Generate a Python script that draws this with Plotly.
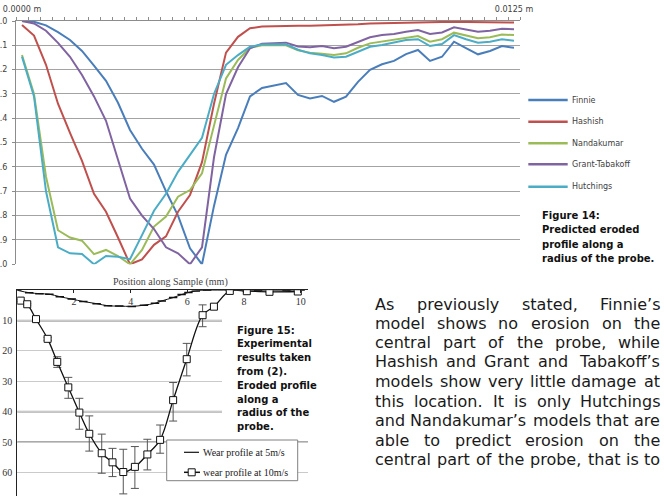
import plotly.graph_objects as go

W, H = 664, 496

# ---------------- Figure 14 data (predicted eroded profile, normalised depth) ----------------
n_pts = 42
radius_end_m = 0.0125
positions_m = [radius_end_m * k / (n_pts - 1) for k in range(n_pts)]
x_tick_labels = ["0.0000 m", "0.0125 m"]

finnie = [0.0, 0.003, 0.018, 0.046, 0.078, 0.123, 0.183, 0.246, 0.336, 0.448,
          0.525, 0.59, 0.70, 0.80, 0.934, 1.0, 0.76, 0.55, 0.44, 0.31,
          0.275, 0.265, 0.255, 0.304, 0.318, 0.308, 0.332, 0.311, 0.25, 0.201,
          0.178, 0.164, 0.136, 0.119, 0.164, 0.147, 0.085, 0.111, 0.137, 0.123,
          0.103, 0.11]
hashish = [0.016, 0.06, 0.18, 0.34, 0.46, 0.575, 0.71, 0.784, 0.89, 1.0,
           0.98, 0.92, 0.885, 0.784, 0.715, 0.58, 0.34, 0.13, 0.065, 0.03,
           0.023, 0.021, 0.021, 0.02, 0.02, 0.019, 0.018, 0.016, 0.013, 0.01,
           0.009, 0.007, 0.005, 0.004, 0.005, 0.005, 0.003, 0.004, 0.005, 0.005,
           0.006, 0.006]
nandakumar = [0.14, 0.30, 0.64, 0.86, 0.89, 0.903, 0.958, 0.941, 0.966, 1.0,
              0.941, 0.845, 0.804, 0.722, 0.695, 0.626, 0.43, 0.236, 0.16, 0.11,
              0.1, 0.1, 0.1, 0.12, 0.13, 0.135, 0.14, 0.133, 0.11, 0.092,
              0.085, 0.078, 0.069, 0.062, 0.085, 0.075, 0.048, 0.06, 0.071, 0.067,
              0.056, 0.058]
grant_tabakoff = [0.0, 0.01, 0.04, 0.09, 0.147, 0.222, 0.31, 0.41, 0.57, 0.73,
                  0.8, 0.855, 0.93, 0.955, 1.0, 0.93, 0.56, 0.3, 0.19, 0.112,
                  0.093, 0.09, 0.089, 0.105, 0.108, 0.103, 0.112, 0.106, 0.085, 0.067,
                  0.058, 0.053, 0.044, 0.037, 0.053, 0.047, 0.026, 0.035, 0.044, 0.04,
                  0.032, 0.034]
hutchings = [0.147, 0.31, 0.70, 0.93, 0.955, 0.958, 1.0, 0.966, 0.969, 0.979,
             0.88, 0.78, 0.71, 0.62, 0.55, 0.48, 0.30, 0.18, 0.14, 0.106,
             0.097, 0.096, 0.096, 0.118, 0.133, 0.14, 0.15, 0.147, 0.126, 0.106,
             0.099, 0.089, 0.078, 0.075, 0.103, 0.095, 0.058, 0.075, 0.089, 0.085,
             0.075, 0.081]
series_names = ["Finnie", "Hashish", "Nandakumar", "Grant-Tabakoff", "Hutchings"]
series_values = [finnie, hashish, nandakumar, grant_tabakoff, hutchings]
series_colors = ["#4a7ebb", "#c0504d", "#9bbb59", "#8064a2", "#4bacc6"]
top_y_vals = [0.0, 0.1, 0.2, 0.3, 0.4, 0.5, 0.6, 0.7, 0.8, 0.9, 1.0]
# the page crops the leading digit of these labels; only the visible part is kept
top_y_text = [".0", ".1", ".2", ".3", ".4", ".5", ".6", ".7", ".8", ".9", ".0"]

# ---------------- Figure 15 data (experimental wear profile, mm vs depth) ----------------
pos5 = [0.0, 0.42, 0.78, 1.13, 1.5, 1.92, 2.33, 2.8, 3.2, 3.6, 4.04, 4.47, 4.86,
        5.1, 5.5, 5.8, 6.04, 6.3, 6.7, 7.5, 8.5, 9.5, 10.0]
depth5 = [0.0, 0.8, 1.1, 1.3, 2.1, 2.9, 3.7, 4.4, 5.1, 5.2, 5.3, 4.9, 4.3,
          3.5, 2.4, 1.4, 0.7, 0.2, 0.0, 0.0, 0.0, 0.0, 0.0]
pos10 = [0.12, 0.35, 0.66, 1.07, 1.41, 1.80, 2.19, 2.54, 2.98, 3.36, 3.74, 4.15,
         4.59, 5.04, 5.50, 5.98, 6.54, 6.94, 7.50, 8.10, 8.90, 9.90]
depth10 = [3.4, 4.6, 9.5, 16.0, 23.6, 32.0, 40.3, 47.3, 53.7, 56.7, 59.9, 58.2,
           54.1, 49.3, 36.2, 22.7, 8.2, 5.4, 0.2, 0.3, 0.5, 0.4]
err_shallower = [0.3, 0.3, 0.4, 0.5, 1.7, 3.3, 4.7, 5.9, 6.3, 4.6, 7.5, 6.7,
                 5.0, 4.9, 5.8, 5.2, 3.4, 0.8, 0.0, 0.0, 0.0, 0.0]
err_deeper = [0.3, 0.3, 0.4, 0.5, 1.8, 3.6, 5.5, 5.7, 6.6, 4.7, 7.2, 7.1,
              5.1, 4.4, 6.9, 5.5, 3.8, 0.8, 0.0, 0.0, 0.0, 0.0]
bottom_x_ticks = [0, 2, 4, 6, 8, 10]
bottom_y_ticks = [0, 10, 20, 30, 40, 50, 60]
legend15 = ["Wear profile at 5m/s", "wear profile at 10m/s"]

caption14 = ["Figure 14:", "Predicted eroded", "profile along a", "radius of the probe."]
caption15 = ["Figure 15:", "Experimental", "results taken", "from (2).", "Eroded profile",
             "along a", "radius of the", "probe."]
paragraph = [
    "As previously stated, Finnie\u2019s",
    "model shows no erosion on the",
    "central part of the probe, while",
    "Hashish and Grant and Tabakoff\u2019s",
    "models show very little damage at",
    "this location. It is only Hutchings",
    "and Nandakumar\u2019s models that are",
    "able to predict erosion on the",
    "central part of the probe, that is to",
]


def px(x):
    return x / W


def py(y):
    return 1 - y / H


fig = go.Figure()

for name, vals, col in zip(series_names, series_values, series_colors):
    fig.add_trace(go.Scatter(x=positions_m, y=vals, mode="lines", name=name,
                             line=dict(color=col, width=2), xaxis="x", yaxis="y",
                             showlegend=False))

fig.add_trace(go.Scatter(x=pos5, y=depth5, mode="lines+markers", name=legend15[0],
                         line=dict(color="#111", width=1, shape="spline"),
                         marker=dict(symbol="line-ew", size=6, line=dict(color="#111", width=1.5)),
                         xaxis="x2", yaxis="y2", showlegend=False))
fig.add_trace(go.Scatter(x=pos10, y=depth10, mode="lines+markers", name=legend15[1],
                         line=dict(color="#111", width=1.3, shape="spline"),
                         marker=dict(symbol="square", size=7, color="white",
                                     line=dict(color="#111", width=1)),
                         error_y=dict(type="data", symmetric=False, array=err_deeper,
                                      arrayminus=err_shallower, color="#555",
                                      thickness=1, width=4),
                         xaxis="x2", yaxis="y2", showlegend=False))

step = radius_end_m / (n_pts - 1)
sans = "DejaVu Sans"
serif = "Liberation Serif"

fig.update_layout(
    width=W, height=H, margin=dict(l=0, r=0, t=0, b=0, autoexpand=False),
    paper_bgcolor="white", plot_bgcolor="rgba(0,0,0,0)", showlegend=False,
    xaxis=dict(domain=[px(16), px(520)], range=[-step / 2, radius_end_m + step / 2],
               side="top", anchor="y", automargin=False, showline=True, linecolor="#8c8c8c",
               linewidth=1, showgrid=False, zeroline=False, tickmode="array",
               tickvals=[positions_m[0], positions_m[-1]], ticktext=x_tick_labels,
               ticks="", ticklabelstandoff=5,
               tickfont=dict(family=sans, size=8, color="#404040"),
               minor=dict(tickmode="linear", tick0=-step / 2, dtick=step, ticks="outside",
                          ticklen=3, tickcolor="#8c8c8c", showgrid=False)),
    yaxis=dict(domain=[py(264.3), py(21)], range=[1, 0], anchor="x", automargin=False,
               showline=True, linecolor="#8c8c8c", showgrid=True, gridcolor="#a3a3a3",
               gridwidth=1.2, zeroline=False, tickmode="array", tickvals=top_y_vals,
               ticktext=top_y_text, ticks="outside", ticklen=3, tickcolor="#8c8c8c",
               ticklabelstandoff=3, tickfont=dict(family=sans, size=8, color="#404040")),
    xaxis2=dict(domain=[px(17.3), px(308)], range=[0, 10.26], side="top", anchor="y2",
                automargin=False, showline=True, linecolor="#222", linewidth=1,
                showgrid=False, zeroline=False, tickmode="array", tickvals=bottom_x_ticks,
                ticks="inside", ticklen=3, tickcolor="#222", ticklabelposition="inside",
                ticklabelstandoff=4,
                tickfont=dict(family=serif, size=10, color="#333")),
    yaxis2=dict(domain=[0, py(290.3)], range=[67.8, 0], anchor="x2", automargin=False,
                showline=True, linecolor="#222", showgrid=True, gridcolor="#cacaca",
                gridwidth=1, zeroline=False, tickmode="array", tickvals=bottom_y_ticks,
                ticks="", ticklabelstandoff=2,
                tickfont=dict(family=serif, size=10, color="#333")),
)

shapes = []
annotations = []


def add_text(x, y, text, size, family=sans, color="#222", xanchor="left", yanchor="middle"):
    annotations.append(dict(x=px(x), y=py(y), xref="paper", yref="paper", text=text,
                            showarrow=False, xanchor=xanchor, yanchor=yanchor, borderpad=0,
                            borderwidth=0,
                            font=dict(family=family, size=size, color=color)))


# emphasised gridlines of the scanned figure 15
for v, col, wdt in [(10, "#a8a8a8", 2), (40, "#b0b0b0", 2), (50, "#555555", 1)]:
    shapes.append(dict(type="line", xref="x2 domain", yref="y2", x0=0, x1=1, y0=v, y1=v,
                       line=dict(color=col, width=wdt), layer="below"))

# Figure 14 legend
legend_rows = [100, 121.7, 143.3, 164.3, 186.7]
for name, col, yy in zip(series_names, series_colors, legend_rows):
    shapes.append(dict(type="line", xref="paper", yref="paper", x0=px(528.3), x1=px(567.7),
                       y0=py(yy), y1=py(yy), line=dict(color=col, width=2.5)))
    add_text(571.7, yy, name, 8, color="#404040")

# Figure 14 caption
for i, line in enumerate(caption14):
    add_text(541.7, 215.7 + i * 14.3, "<b>" + line + "</b>", 10, color="#111")

# Figure 15 caption block (white panel over the scanned chart)
shapes.append(dict(type="rect", xref="paper", yref="paper", x0=px(222), x1=px(352),
                   y0=py(310), y1=py(438), fillcolor="white", line=dict(width=0), layer="above"))
for i, line in enumerate(caption15):
    add_text(236.7, 330 + i * 13.8, "<b>" + line + "</b>", 10, color="#111")

# Figure 15 axis title
add_text(170.5, 281.7, "Position along Sample (mm)", 10, family=serif, color="#444",
         xanchor="center")

# Figure 15 legend box
shapes.append(dict(type="rect", xref="paper", yref="paper", x0=px(166.7), x1=px(297.7),
                   y0=py(480.7), y1=py(440), fillcolor="white",
                   line=dict(color="#808080", width=1), layer="above"))
shapes.append(dict(type="line", xref="paper", yref="paper", x0=px(184), x1=px(199),
                   y0=py(452.3), y1=py(452.3), line=dict(color="#111", width=1.2), layer="above"))
shapes.append(dict(type="line", xref="paper", yref="paper", x0=px(184), x1=px(200),
                   y0=py(472.3), y1=py(472.3), line=dict(color="#111", width=1.5), layer="above"))
shapes.append(dict(type="rect", xref="paper", yref="paper", x0=px(188.2), x1=px(195.2),
                   y0=py(475.8), y1=py(468.8), fillcolor="white",
                   line=dict(color="#111", width=1), layer="above"))
add_text(203.3, 452.3, legend15[0], 10, family=serif, color="#222")
add_text(203.3, 472.3, legend15[1], 10, family=serif, color="#222")

# Justified paragraph (DejaVu Sans advance widths, 1/2048 em, rounded per glyph)
CW = {' ': 651, ',': 651, '.': 651, '\u2019': 651, ':': 690, '(': 799, ')': 799,
      'A': 1401, 'F': 1178, 'G': 1589, 'H': 1540, 'I': 604, 'N': 1532, 'T': 1251,
      'a': 1255, 'b': 1300, 'c': 1126, 'd': 1300, 'e': 1260, 'f': 721, 'g': 1300,
      'h': 1298, 'i': 569, 'j': 569, 'k': 1186, 'l': 569, 'm': 1995, 'n': 1298,
      'o': 1253, 'p': 1300, 'q': 1300, 'r': 842, 's': 1067, 't': 803, 'u': 1298,
      'v': 1212, 'w': 1675, 'x': 1212, 'y': 1212, 'z': 1075}
para_size = 16
para_left, para_right = 375, 660
para_y = [304.3, 323.3, 342.7, 361.7, 381.7, 401.0, 420.7, 440.0, 459.3]


def text_w(s, size):
    return sum(round(CW.get(c, 1250) / 2048 * size) for c in s)


for line, yy in zip(paragraph, para_y):
    words = line.split(" ")
    widths = [text_w(wd, para_size) for wd in words]
    gap = (para_right - para_left - sum(widths)) / (len(words) - 1)
    xx = para_left
    for j, (wd, wdt) in enumerate(zip(words, widths)):
        if j == len(words) - 1:
            add_text(para_right, yy, wd, para_size, color="#1a1a1a", xanchor="right")
        else:
            add_text(xx, yy, wd, para_size, color="#1a1a1a")
        xx += wdt + gap

fig.update_layout(shapes=shapes, annotations=annotations)
fig.write_html("out.html")
